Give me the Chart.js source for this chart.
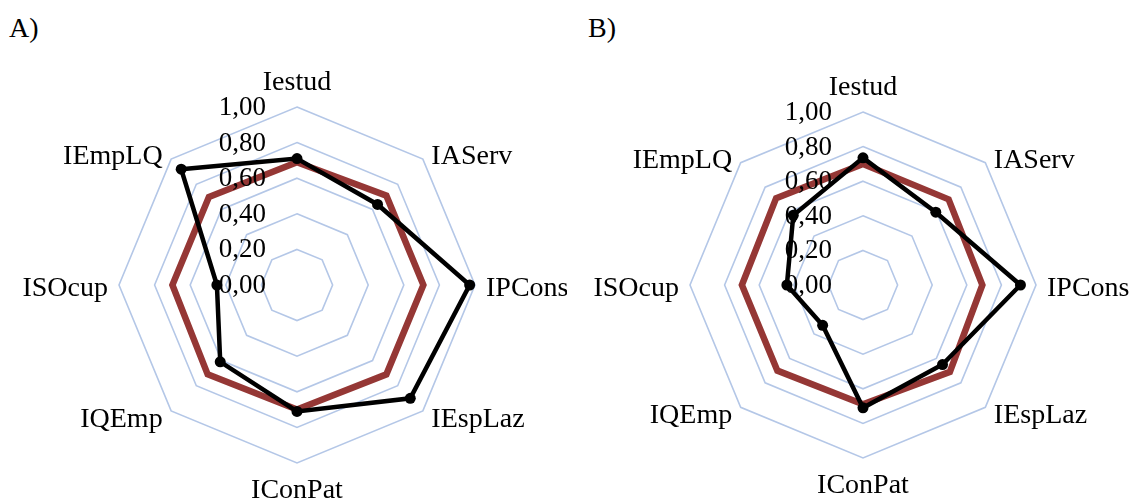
<!DOCTYPE html>
<html>
<head>
<meta charset="utf-8">
<script src="https://cdn.jsdelivr.net/npm/chart.js@4"></script>
<style>
  body { margin: 0; background: #fff; width: 1134px; height: 501px; overflow: hidden; position: relative; }
  .tag { position: absolute; font-family: "Liberation Serif", "Times New Roman", serif; font-size: 28px; color: #000; }
  canvas { position: absolute; top: 0; }
</style>
</head>
<body>
<div class="tag" style="left:9px; top:12px;">A)</div>
<div class="tag" style="left:588px; top:12px;">B)</div>
<canvas id="chartA" width="567" height="501" style="left:0px;"></canvas>
<canvas id="chartB" width="567" height="501" style="left:567px;"></canvas>
<script>
// categories and values
const categories = ["Iestud", "IAServ", "IPCons", "IEspLaz", "IConPat", "IQEmp", "ISOcup", "IEmpLQ"];
const tickValues = [0, 0.2, 0.4, 0.6, 0.8, 1.0];
const tickLabels = ["0,00", "0,20", "0,40", "0,60", "0,80", "1,00"];

const serieA = [0.71, 0.64, 0.97, 0.90, 0.71, 0.61, 0.45, 0.92];
const mediaA = [0.69, 0.71, 0.71, 0.71, 0.70, 0.71, 0.70, 0.70];
const serieB = [0.735, 0.595, 0.91, 0.65, 0.71, 0.33, 0.44, 0.57];
const mediaB = [0.70, 0.70, 0.69, 0.71, 0.69, 0.70, 0.70, 0.71];

const FONT = '"Liberation Serif", "Times New Roman", serif';

// draw tick labels left of the axis and the category labels (Excel style)
const labelPlugin = {
  id: "excelLabels",
  afterDraw(chart) {
    const scale = chart.scales.r;
    const ctx = chart.ctx;
    ctx.save();
    ctx.fillStyle = "#000";

    ctx.font = "27px " + FONT;
    ctx.textAlign = "right";
    ctx.textBaseline = "middle";
    tickValues.forEach((v, i) => {
      const d = scale.getDistanceFromCenterForValue(v);
      ctx.fillText(tickLabels[i], scale.xCenter - 31, scale.yCenter - d + 1);
    });

    ctx.font = "28px " + FONT;
    ctx.textBaseline = "alphabetic";
    categories.forEach((c, i) => {
      const p = scale.getPointPosition(i, scale.drawingArea);
      const a = scale.getIndexAngle(i);
      const sx = Math.sin(a), sy = -Math.cos(a);
      let x = p.x, y = p.y;
      if (Math.abs(sx) < 0.01) {
        ctx.textAlign = "center";
        y += sy < 0 ? -17.5 : 34.5;
      } else {
        ctx.textAlign = sx > 0 ? "left" : "right";
        const side = Math.abs(sy) < 0.01;
        x += (sx > 0 ? 1 : -1) * (side ? 11 : 8.5);
        y += side ? 10.5 : 10 + (sy > 0 ? 6 : -5);
      }
      ctx.fillText(c, x, y);
    });
    ctx.restore();
  }
};

function makeRadar(id, serie, media, pad) {
  return new Chart(document.getElementById(id), {
    type: "radar",
    data: {
      labels: categories,
      datasets: [
        {
          data: serie,
          borderColor: "#000",
          backgroundColor: "#000",
          borderWidth: 4.5,
          pointRadius: 5.5,
          pointBackgroundColor: "#000",
          pointBorderWidth: 0,
          fill: false,
          tension: 0
        },
        {
          data: media,
          borderColor: "#953735",
          borderWidth: 6.5,
          pointRadius: 0,
          fill: false,
          tension: 0
        }
      ]
    },
    options: {
      responsive: false,
      animation: false,
      layout: { padding: pad },
      plugins: { legend: { display: false }, tooltip: { enabled: false } },
      scales: {
        r: {
          min: 0,
          max: 1,
          ticks: { display: false, stepSize: 0.2 },
          grid: { color: "#b4c7e7", lineWidth: 1.6 },
          angleLines: { display: false },
          pointLabels: { display: false }
        }
      }
    },
    plugins: [labelPlugin]
  });
}

makeRadar("chartA", serieA, mediaA, { left: 119, right: 92, top: 107.5, bottom: 37.5 });
makeRadar("chartB", serieB, mediaB, { left: 123, right: 98, top: 112.5, bottom: 42.5 });
</script>
</body>
</html>
